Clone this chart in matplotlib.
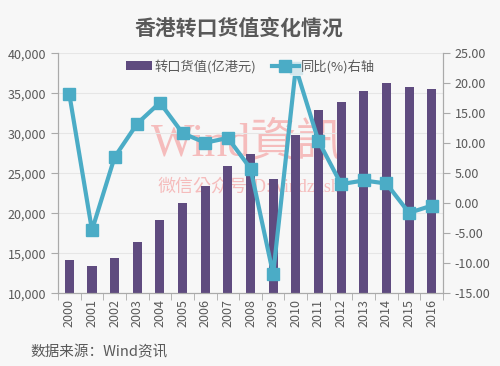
import numpy as np
import matplotlib.pyplot as plt

plt.rcParams['font.family'] = ['Noto Sans CJK SC', 'DejaVu Sans']

years = [str(y) for y in range(2000, 2017)]
reexport = [14100, 13400, 14450, 16350, 19100, 21300, 23400, 25900, 27450,
            24300, 29800, 32900, 33900, 35250, 36300, 35800, 35600]
yoy = [18.2, -4.5, 7.7, 13.3, 16.8, 11.7, 10.1, 10.9, 5.8,
       -11.8, 22.6, 10.4, 3.2, 3.8, 3.3, -1.6, -0.4]

purple = '#5f4b7f'
teal = '#4bacc6'
grey = '#595959'
bg = '#f7f7f7'

fig = plt.figure(figsize=(5, 3.66), dpi=100, facecolor=bg)
ax = fig.add_axes([0.116, 0.199, 0.770, 0.655], facecolor=bg)
ax2 = ax.twinx()

# watermark, behind the data
wm = dict(ha='center', va='center', color='#f5a3a3', alpha=0.7, zorder=1,
          transform=fig.transFigure, family=['Liberation Serif', 'Noto Sans CJK TC'])
ax.text(0.493, 0.604, 'Wind資訊', fontsize=33, **wm)
ax.text(0.498, 0.49, '微信公众号ID:windzxsh', fontsize=13, **wm)

x = np.arange(len(years))
b = ax.bar(x, reexport, width=0.4, color=purple, zorder=2)
ax.set_ylim(10000, 40000)
ax.set_yticks(range(10000, 40001, 5000))
ax.set_yticklabels([f'{v:,}' for v in range(10000, 40001, 5000)])
ax.set_xlim(-0.5, len(years) - 0.5)
ax.set_xticks(x)
ax.set_xticklabels(years, rotation=90)
ax.set_xticks(np.arange(-0.5, len(years)), minor=True)
ax.tick_params(axis='x', which='major', length=0, pad=4)
ax.tick_params(axis='x', which='minor', length=5, color='#aaaaaa')
ax.tick_params(axis='y', length=5, color='#aaaaaa')
ax.tick_params(labelsize=9, labelcolor=grey)
ax.grid(axis='y', color='#e6e6e6', lw=0.8, zorder=0)

l, = ax2.plot(x, yoy, color=teal, lw=3, marker='s', ms=8, zorder=3)
ax2.set_ylim(-15, 25)
ax2.set_yticks(range(-15, 26, 5))
ax2.set_yticklabels([f'{v:.2f}' for v in range(-15, 26, 5)])
ax2.tick_params(axis='y', length=5, color='#aaaaaa', labelsize=9, labelcolor=grey)

for a in (ax, ax2):
    a.spines['top'].set_visible(False)
    for s in ('left', 'right', 'bottom'):
        a.spines[s].set_color('#aaaaaa')

ax2.legend([b, l], ['转口货值(亿港元)', '同比(%)右轴'], loc='center',
           bbox_to_anchor=(0.5, 0.946), ncol=2, frameon=True, fontsize=9.5,
           labelcolor=grey, handlelength=2.0, handletextpad=0.2, columnspacing=1.2,
           borderpad=0.2, facecolor=bg, edgecolor='none', framealpha=0.8)

fig.text(0.477, 0.923, '香港转口货值变化情况', ha='center', va='center',
         fontsize=15, fontweight='bold', color=grey)
fig.text(0.06, 0.038, '数据来源：Wind资讯', ha='left', va='center',
         fontsize=10.5, color=grey)

fig.savefig('out.png', dpi=100, facecolor=bg)
